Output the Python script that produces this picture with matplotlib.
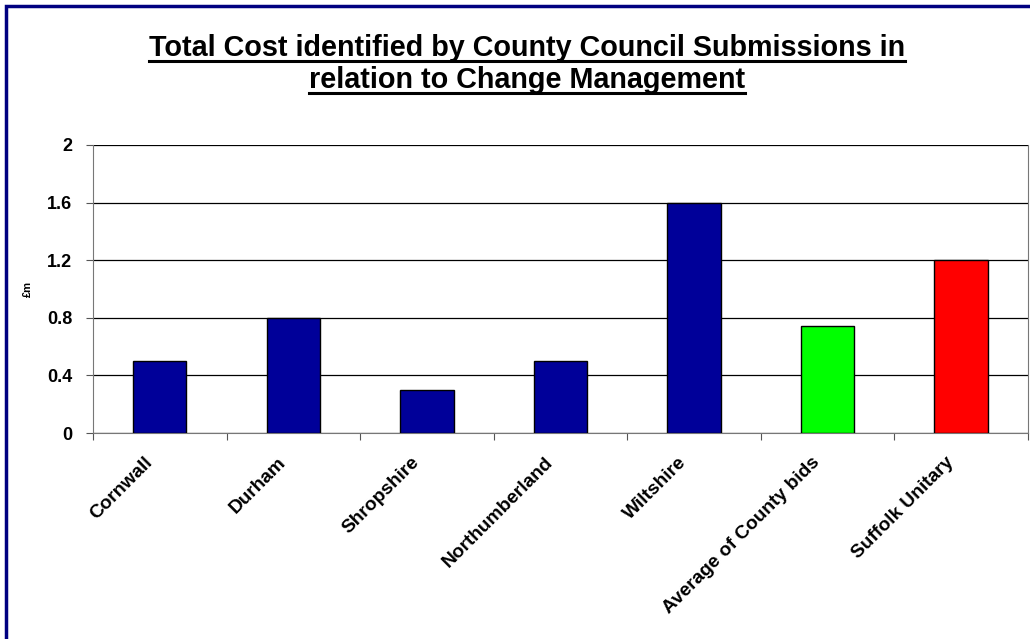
import matplotlib
matplotlib.use("Agg")
import matplotlib.pyplot as plt
import matplotlib.transforms as mtransforms
from matplotlib.lines import Line2D
from matplotlib.patches import Rectangle

plt.rcParams['font.family'] = ['Liberation Sans', 'DejaVu Sans']

counties = ['Cornwall', 'Durham', 'Shropshire', 'Northumberland', 'Wiltshire',
            'Average of County bids', 'Suffolk Unitary']
cost_m = [0.5, 0.8, 0.3, 0.5, 1.6, 0.74, 1.2]
bar_colours = ['#000099'] * 5 + ['#00ff00', '#ff0000']
y_ticks = [0, 0.4, 0.8, 1.2, 1.6, 2]
title_lines = ['Total Cost identified by County Council Submissions in',
               'relation to Change Management']

W, H = 1030, 639
fig = plt.figure(figsize=(W / 100, H / 100), dpi=100)
ax = fig.add_axes([93 / W, 1 - 433 / H, (1028 - 93) / W, (433 - 145) / H])

x = range(len(counties))
ax.bar(x, cost_m, width=0.4, color=bar_colours, edgecolor='black', linewidth=1, zorder=3)

ax.set_xlim(-0.5, len(counties) - 0.5)
ax.set_ylim(0, 2)
ax.set_yticks(y_ticks)
ax.set_yticklabels([f'{v:g}' for v in y_ticks], fontsize=13, fontweight='bold')
ax.yaxis.grid(True, color='black', linewidth=0.9, zorder=0)

# category ticks sit between the bars, names under the bars
ax.set_xticks([i - 0.5 for i in range(len(counties) + 1)])
ax.set_xticklabels([])
ax.set_xticks(list(x), minor=True)
ax.set_xticklabels(counties, minor=True, rotation=45, ha='right', va='top',
                   fontsize=13.8, fontweight='bold')
ax.tick_params(axis='x', which='minor', length=0, pad=15)
ax.tick_params(axis='x', which='major', length=5, color='#555555')
ax.tick_params(axis='y', length=5, color='#555555', pad=10)
shift = mtransforms.ScaledTranslation(-4 / 100, 0, fig.dpi_scale_trans)
for lbl in ax.get_xticklabels(minor=True):
    lbl.set_transform(lbl.get_transform() + shift)

for side in ['left', 'bottom', 'right']:
    ax.spines[side].set_color('#777777')
ax.spines['top'].set_visible(False)

ax.set_ylabel('£m', fontsize=8, fontweight='bold')
ax.yaxis.set_label_coords((33 - 93) / (1028 - 93), 0.5)

# underlined two-line title
title_x = 527 / W
title_y = [1 - 56 / H, 1 - 88 / H]
texts = []
for line, ty in zip(title_lines, title_y):
    texts.append(fig.text(title_x, ty, line, ha='center', va='baseline', fontsize=20.7,
                          fontweight='bold'))
fig.canvas.draw()
renderer = fig.canvas.get_renderer()
for t, ty in zip(texts, title_y):
    bb = t.get_window_extent(renderer).transformed(fig.transFigure.inverted())
    fig.add_artist(Line2D([bb.x0, bb.x1], [ty - 5 / H] * 2, color='black', linewidth=2.2))

# navy frame round the chart
fig.add_artist(Rectangle((6 / W, -0.1), 1.2, 1 - 6 / H + 0.1, transform=fig.transFigure,
                         fill=False, edgecolor='#000080', linewidth=2.5))

fig.savefig('out.png', dpi=100, facecolor='white')
